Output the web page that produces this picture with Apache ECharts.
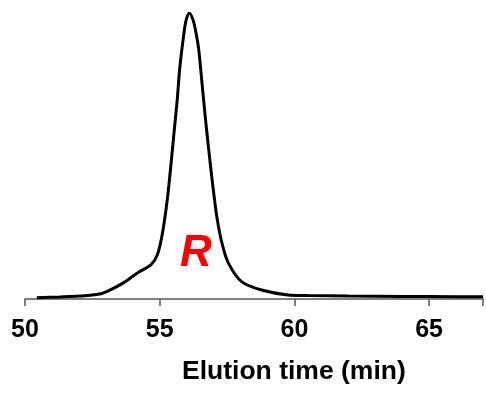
<!DOCTYPE html>
<html>
<head>
<meta charset="utf-8">
<script src="https://cdn.jsdelivr.net/npm/echarts@6/dist/echarts.min.js"></script>
<style>html,body{margin:0;padding:0;background:#fff}#c{width:486px;height:394px}</style>
</head>
<body>
<div id="c"></div>
<script>
const times = [50.44, 51.29, 52.03, 52.76, 53.13, 53.62, 54.24, 54.67, 54.91, 55.10, 55.28, 55.41, 55.53, 55.65, 55.74, 55.90, 55.98, 56.10, 56.24, 56.35, 56.45, 56.57, 56.69, 56.82, 56.96, 57.12, 57.31, 57.55, 58.04, 58.78, 59.76, 60.5, 62, 64, 66, 67];
const intensity = [0.45, 0.7, 1.0, 1.7, 3.0, 5.4, 9.4, 11.8, 15.2, 22.7, 34.3, 45.8, 57.4, 68.9, 79.5, 92.0, 96.5, 98.9, 96.5, 92.0, 86.2, 74.7, 63.1, 51.6, 40.1, 28.5, 19.3, 12.4, 6.0, 3.1, 1.4, 1.2, 1.0, 0.9, 0.8, 0.8];
const xTicks = [50, 55, 60, 65];
const xTitle = 'Elution time (min)';
const peakLabel = 'R';

const chart = echarts.init(document.getElementById('c'), null, {renderer: 'canvas'});
chart.setOption({
  animation: false,
  grid: {left: 25, right: 0, top: 10, bottom: 95},
  title: {
    text: xTitle, left: 177, top: 353,
    textStyle: {fontFamily: 'Liberation Sans, Arial, sans-serif', fontWeight: 'bold', fontSize: 26.5, color: '#000'}
  },
  xAxis: {
    type: 'value', min: 50, max: 67, interval: 5,
    axisLine: {show: true, lineStyle: {color: '#555', width: 1.5}},
    axisTick: {show: true, inside: false, length: 7, lineStyle: {color: '#555', width: 1.5}},
    splitLine: {show: false},
    axisLabel: {
      margin: 19, fontFamily: 'Liberation Sans, Arial, sans-serif', fontWeight: 'bold', fontSize: 25, color: '#000',
      formatter: v => xTicks.includes(v) ? String(v) : ''
    }
  },
  yAxis: {type: 'value', min: 0, max: 100, show: false},
  graphic: [{
    type: 'text', left: 180, top: 232,
    style: {text: peakLabel, fill: '#ff0000', font: 'italic bold 44px "Liberation Sans", Arial, sans-serif'}
  }],
  series: [{
    type: 'line', smooth: 0.3, symbol: 'none',
    lineStyle: {color: '#000', width: 3},
    data: times.map((t, i) => [t, intensity[i]])
  }]
});
</script>
</body>
</html>
